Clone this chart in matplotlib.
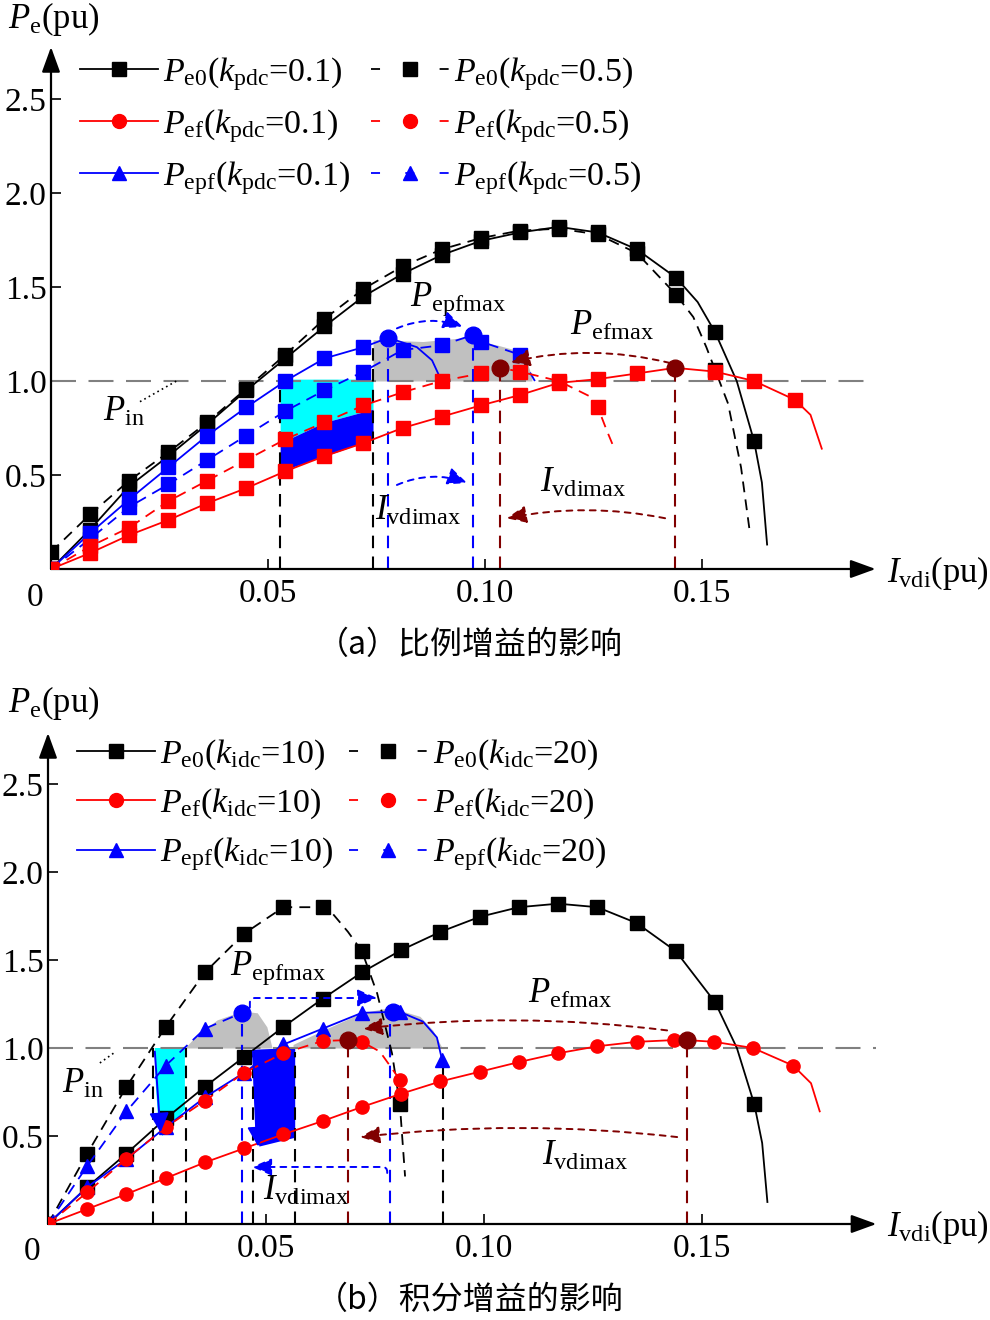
import matplotlib.pyplot as plt
from matplotlib.lines import Line2D

plt.rcParams['font.family'] = ['Liberation Serif', 'Noto Sans CJK SC', 'DejaVu Sans']
plt.rcParams['mathtext.fontset'] = 'custom'
plt.rcParams['mathtext.rm'] = 'Liberation Serif'
plt.rcParams['mathtext.it'] = 'Liberation Serif:italic'
plt.rcParams['mathtext.bf'] = 'Liberation Serif:bold'

BROWN = '#800000'
DASH = (0, (6, 4))

# ---------------- (a) proportional gain kpdc ----------------
pe0_p1_x = [0, .009, .018, .027, .036, .045, .054, .063, .072, .081, .090, .099, .108, .117, .126, .135, .144, .149, .153, .158, .162, .1638, .165]
pe0_p1_y = [0, .21, .44, .60, .77, .95, 1.12, 1.29, 1.45, 1.57, 1.67, 1.745, 1.79, 1.82, 1.79, 1.70, 1.55, 1.42, 1.26, 1.0, .68, .46, .13]
pe0_p1_mk = list(range(17)) + [18, 20]

pe0_p5_x = [0, .009, .018, .027, .036, .045, .054, .063, .072, .081, .090, .099, .108, .117, .126, .135, .144, .148, .151, .153, .156, .159, .161]
pe0_p5_y = [.09, .29, .47, .62, .78, .96, 1.14, 1.33, 1.49, 1.61, 1.70, 1.76, 1.80, 1.81, 1.78, 1.68, 1.46, 1.34, 1.18, 1.06, .88, .54, .2]
pe0_p5_mk = list(range(17)) + [19]

pef_p1_x = [0, .009, .018, .027, .036, .045, .054, .063, .072, .081, .090, .099, .108, .117, .126, .135, .1438, .153, .162, .1714, .175, .1776]
pef_p1_y = [0, .085, .18, .26, .35, .43, .52, .60, .67, .75, .81, .87, .925, .99, 1.01, 1.04, 1.07, 1.05, 1.0, .90, .82, .64]
pef_p1_mk = list(range(16)) + [17, 18, 19]

pef_p5_x = [0, .009, .018, .027, .036, .045, .054, .063, .072, .081, .090, .099, .1035, .108, .117, .124, .126, .128, .1298]
pef_p5_y = [0, .12, .22, .36, .47, .58, .69, .78, .87, .94, 1.0, 1.04, 1.07, 1.05, 1.0, .92, .86, .74, .64]
pef_p5_mk = list(range(12)) + [13, 14, 16]

pepf_p1_x = [0, .009, .018, .027, .036, .045, .054, .063, .072, .0777, .0843, .0878, .0892]
pepf_p1_y = [0, .19, .37, .54, .71, .86, 1.0, 1.12, 1.18, 1.23, 1.18, 1.11, 1.04]
pepf_p1_mk = list(range(9))

pepf_p5_x = [0, .009, .018, .027, .036, .045, .054, .063, .072, .081, .090, .0973, .099, .108, .1115]
pepf_p5_y = [0, .16, .33, .45, .58, .71, .84, .95, 1.05, 1.165, 1.19, 1.245, 1.21, 1.14, 1.0]
pepf_p5_mk = list(range(11)) + [12, 13]

pepfmax_a_x = [.0777, .0973]
pepfmax_a_y = [1.23, 1.245]
pefmax_a_x = [.1035, .1438]
pefmax_a_y = [1.07, 1.07]

cyan_a_x = [.0528, .063, .0742]
cyan_a_top = [1.01, 1.01, 1.01]
blue_a_lo = [.52, .60, .69]
blue_a_hi = [.67, .78, .85]
gray_a_x = [.0742, .0857, .095, .103, .107, .1097, .1108]
gray_a_top = [1.22, 1.21, 1.23, 1.19, 1.165, 1.10, 1.02]

vk_a_x, vk_a_top = [.0528, .0742], [1.0, 1.21]
vb_a_x, vb_a_top = [.0777, .0973], [1.23, 1.245]
vr_a_x, vr_a_top = [.1035, .1438], [1.07, 1.07]

# ---------------- (b) integral gain kidc ----------------
pe0_i10_x = [0, .009, .018, .027, .036, .045, .054, .063, .072, .081, .090, .099, .108, .117, .126, .135, .144, .153, .158, .162, .1638, .165]
pe0_i10_y = [0, .21, .40, .60, .78, .95, 1.12, 1.28, 1.43, 1.556, 1.66, 1.745, 1.80, 1.82, 1.80, 1.71, 1.55, 1.26, 1.0, .68, .46, .125]
pe0_i10_mk = list(range(18)) + [19]

pe0_i20_x = [0, .009, .018, .027, .036, .045, .054, .063, .0654, .0688, .072, .0755, .0789, .0807, .0819]
pe0_i20_y = [0, .40, .78, 1.12, 1.43, 1.65, 1.80, 1.80, 1.76, 1.66, 1.55, 1.31, .97, .68, .27]
pe0_i20_mk = list(range(8)) + [10, 13]

pef_i10_x = [0, .009, .018, .027, .036, .045, .054, .063, .072, .081, .090, .099, .108, .117, .126, .135, .1436, .1465, .1528, .1617, .1709, .175, .177]
pef_i10_y = [0, .085, .17, .26, .35, .43, .51, .585, .665, .74, .81, .865, .92, .97, 1.01, 1.035, 1.045, 1.045, 1.035, 1.0, .90, .80, .64]
pef_i10_mk = list(range(17)) + [18, 19, 20]

pef_i20_x = [0, .009, .018, .027, .036, .045, .054, .063, .0689, .072, .0761, .0807]
pef_i20_y = [0, .18, .37, .55, .70, .86, .97, 1.04, 1.045, 1.035, .98, .82]
pef_i20_mk = list(range(8)) + [9, 11]

pepf_i10_x = [0, .009, .018, .027, .036, .045, .054, .063, .072, .0792, .0807, .086, .0892, .0904]
pepf_i10_y = [0, .21, .37, .55, .72, .86, 1.02, 1.11, 1.20, 1.205, 1.205, 1.15, 1.06, .93]
pepf_i10_mk = list(range(9)) + [10, 13]

pepf_i20_x = [0, .009, .018, .027, .036, .0445]
pepf_i20_y = [0, .33, .64, .90, 1.11, 1.20]
pepf_i20_mk = list(range(5))

pepfmax_b_x = [.0445, .0792]
pepfmax_b_y = [1.20, 1.205]
pefmax_b_x = [.0689, .1465]
pefmax_b_y = [1.045, 1.045]

cyan_b_x = [.0245, .0314, .0314, .0262, .0252, .0247]
cyan_b_y = [1.0, 1.0, .65, .50, .62, .80]
blue_b_x = [.047, .0567, .0567, .0485, .0475, .0471]
blue_b_y = [.99, 1.0, .49, .44, .55, .80]
gray_b1_x = [.0314, .034, .0388, .0445, .048, .0502, .0514]
gray_b1_top = [1.0, 1.07, 1.16, 1.21, 1.2, 1.12, 1.0]
gray_b2_x = [.0562, .063, .072, .0785, .0853, .0883, .0904]
gray_b2_top = [1.02, 1.10, 1.20, 1.23, 1.18, 1.10, 1.0]

vk_b_x, vk_b_top = [.0241, .0316, .047, .0567, .0906], [1.0, 1.0, .98, .98, .92]
vb_b_x, vb_b_top = [.0445, .0784], [1.2, 1.2]
vr_b_x, vr_b_top = [.0689, .1466], [1.045, 1.045]

fig = plt.figure(figsize=(9.9, 13.2), dpi=100)
ax_a = fig.add_axes([51/990, 1 - 569/1320, 0.19*4340/990, (569 - 47)/1320])
ax_b = fig.add_axes([48/990, 1 - 1224/1320, 0.19*4360/990, (1224 - 733)/1320])
ax_a.set_ylim(0, (569 - 47)/188)
ax_b.set_ylim(0, (1224 - 733)/176)


def style_axes(ax):
    ax.set_xlim(0, 0.19)
    for s in ax.spines.values():
        s.set_visible(False)
    top = ax.get_ylim()[1]
    arrow = dict(arrowstyle='-|>,head_length=0.55,head_width=0.2', color='k', lw=1.6,
                 mutation_scale=28, shrinkA=0, shrinkB=0)
    ax.annotate('', xy=(0.19, 0), xytext=(0, 0), arrowprops=arrow, annotation_clip=False)
    ax.annotate('', xy=(0, top), xytext=(0, 0), arrowprops=arrow, annotation_clip=False)
    ax.set_xticks([0.05, 0.10, 0.15])
    ax.set_xticklabels(['0.05', '0.10', '0.15'])
    ax.set_yticks([0.5, 1.0, 1.5, 2.0, 2.5])
    ax.set_yticklabels(['0.5', '1.0', '1.5', '2.0', '2.5'])
    ax.tick_params(direction='in', length=7, width=1.2, labelsize=24)
    ax.tick_params(axis='x', pad=7)
    ax.tick_params(axis='y', pad=3)
    ax.text(-0.0037, -0.025, '0', fontsize=24, ha='center', va='top',
            transform=ax.get_xaxis_transform())
    ax.axhline(1.0, color='#808080', lw=1.5, ls=(0, (12, 6)), zorder=2)


def curve(ax, x, y, color, ls, marker, mk):
    ax.plot(x, y, color=color, lw=1.3, ls=ls, marker=marker, ms=9.5,
            markevery=mk, zorder=3)


def arrow(ax, start, end, color, cs):
    ax.annotate('', xy=end, xytext=start,
                arrowprops=dict(arrowstyle='-|>,head_length=0.8,head_width=0.35',
                                color=color, lw=1.4, ls=(0, (3, 3)),
                                connectionstyle=cs, mutation_scale=15,
                                shrinkA=0, shrinkB=0), zorder=5)


def legend(ax, labels, anchor, colsp):
    hs = [Line2D([], [], color='k', lw=1.3, marker='s', ms=10),
          Line2D([], [], color='r', lw=1.3, marker='o', ms=10),
          Line2D([], [], color='b', lw=1.3, marker='^', ms=10),
          Line2D([], [], color='k', lw=1.3, ls=(0, (5, 14)), marker='s', ms=10),
          Line2D([], [], color='r', lw=1.3, ls=(0, (5, 14)), marker='o', ms=10),
          Line2D([], [], color='b', lw=1.3, ls=(0, (5, 14)), marker='^', ms=10)]
    ax.legend(hs, labels, ncol=2, loc='upper left', bbox_to_anchor=anchor,
              frameon=False, fontsize=24.5, handlelength=2.3, handletextpad=0.15,
              labelspacing=0.42, columnspacing=colsp, borderpad=0, borderaxespad=0)


# ---- panel (a)
ax = ax_a
style_axes(ax)
ax.fill_between(cyan_a_x, blue_a_hi, cyan_a_top, color='#00ffff', lw=0, zorder=1)
ax.fill_between(cyan_a_x, blue_a_lo, blue_a_hi, color='#0000ff', lw=0, zorder=1)
ax.fill_between(gray_a_x, 1.0, gray_a_top, color='#c0c0c0', lw=0, zorder=1)
ax.vlines(vk_a_x, 0, vk_a_top, colors='k', lw=1.5, linestyles=(0, (6, 4)), zorder=2)
ax.vlines(vb_a_x, 0, vb_a_top, colors='b', lw=1.5, linestyles=(0, (6, 4)), zorder=2)
ax.vlines(vr_a_x, 0, vr_a_top, colors=BROWN, lw=1.5, linestyles=(0, (6, 4)), zorder=2)

curve(ax, pe0_p1_x, pe0_p1_y, 'k', '-', 's', pe0_p1_mk)
curve(ax, pe0_p5_x, pe0_p5_y, 'k', DASH, 's', pe0_p5_mk)
curve(ax, pepf_p1_x, pepf_p1_y, 'b', '-', 's', pepf_p1_mk)
curve(ax, pepf_p5_x, pepf_p5_y, 'b', DASH, 's', pepf_p5_mk)
curve(ax, pef_p1_x, pef_p1_y, 'r', '-', 's', pef_p1_mk)
curve(ax, pef_p5_x, pef_p5_y, 'r', DASH, 's', pef_p5_mk)
ax.plot(pepfmax_a_x, pepfmax_a_y, 'o', color='b', ms=12, zorder=4)
ax.plot(pefmax_a_x, pefmax_a_y, 'o', color=BROWN, ms=12, zorder=4)

arrow(ax, (.0797, 1.28), (.0949, 1.287), 'b', 'arc3,rad=-0.2')
arrow(ax, (.0797, .447), (.0959, .457), 'b', 'arc3,rad=-0.2')
arrow(ax, (.1426, 1.096), (.1058, 1.10), BROWN, 'arc3,rad=0.12')
arrow(ax, (.1415, .27), (.105, .27), BROWN, 'arc3,rad=0.1')
ax.plot([.0205, .0293], [.89, 1.005], color='k', lw=1.2, ls=(0, (1, 2)))

ax.text(.0827, 1.40, r'$P_{\rm epfmax}$', fontsize=25, va='baseline')
ax.text(.1196, 1.245, r'$P_{\rm efmax}$', fontsize=25, va='baseline')
ax.text(.1127, .41, r'$I_{\rm vdimax}$', fontsize=25, va='baseline')
ax.text(.0747, .26, r'$I_{\rm vdimax}$', fontsize=25, va='baseline')
ax.text(.012, .79, r'$P_{\rm in}$', fontsize=25, va='baseline')

legend(ax, [r'$P_{\rm e0}(k_{\rm pdc}$=0.1)', r'$P_{\rm ef}(k_{\rm pdc}$=0.1)',
            r'$P_{\rm epf}(k_{\rm pdc}$=0.1)', r'$P_{\rm e0}(k_{\rm pdc}$=0.5)',
            r'$P_{\rm ef}(k_{\rm pdc}$=0.5)', r'$P_{\rm epf}(k_{\rm pdc}$=0.5)'],
       (0.035, 0.985), 0.6)

# ---- panel (b)
ax = ax_b
style_axes(ax)
ax.fill(cyan_b_x, cyan_b_y, color='#00ffff', lw=0, zorder=1)
ax.fill(blue_b_x, blue_b_y, color='#0000ff', lw=0, zorder=1)
ax.fill_between(gray_b1_x, 1.0, gray_b1_top, color='#c0c0c0', lw=0, zorder=1)
ax.fill_between(gray_b2_x, 1.0, gray_b2_top, color='#c0c0c0', lw=0, zorder=1)
ax.vlines(vk_b_x, 0, vk_b_top, colors='k', lw=1.5, linestyles=(0, (6, 4)), zorder=2)
ax.vlines(vb_b_x, 0, vb_b_top, colors='b', lw=1.5, linestyles=(0, (6, 4)), zorder=2)
ax.vlines(vr_b_x, 0, vr_b_top, colors=BROWN, lw=1.5, linestyles=(0, (6, 4)), zorder=2)

curve(ax, pe0_i10_x, pe0_i10_y, 'k', '-', 's', pe0_i10_mk)
curve(ax, pe0_i20_x, pe0_i20_y, 'k', DASH, 's', pe0_i20_mk)
curve(ax, pepf_i10_x, pepf_i10_y, 'b', '-', '^', pepf_i10_mk)
curve(ax, pepf_i20_x, pepf_i20_y, 'b', DASH, '^', pepf_i20_mk)
curve(ax, pef_i10_x, pef_i10_y, 'r', '-', 'o', pef_i10_mk)
curve(ax, pef_i20_x, pef_i20_y, 'r', DASH, 'o', pef_i20_mk)
ax.plot(pepfmax_b_x, pepfmax_b_y, 'o', color='b', ms=12, zorder=4)
ax.plot(pefmax_b_x, pefmax_b_y, 'o', color=BROWN, ms=12, zorder=4)

ax.annotate('', xy=(.0258, .52), xytext=(.0245, .98),
            arrowprops=dict(arrowstyle='-|>,head_length=0.8,head_width=0.4', color='b',
                            lw=1.4, mutation_scale=15, shrinkA=0, shrinkB=0), zorder=4)
ax.annotate('', xy=(.0482, .44), xytext=(.047, .98),
            arrowprops=dict(arrowstyle='-|>,head_length=0.8,head_width=0.4', color='b',
                            lw=1.4, mutation_scale=15, shrinkA=0, shrinkB=0), zorder=4)
arrow(ax, (.0463, 1.23), (.0755, 1.284), 'b', 'angle,angleA=90,angleB=0,rad=5')
arrow(ax, (.0778, .29), (.0468, .324), 'b', 'angle,angleA=90,angleB=0,rad=5')
arrow(ax, (.142, 1.10), (.0722, 1.11), BROWN, 'arc3,rad=0.06')
arrow(ax, (.1443, .494), (.0716, .494), BROWN, 'arc3,rad=0.057')
ax.plot([.0119, .0154], [.915, .977], color='k', lw=1.2, ls=(0, (1, 2)))

ax.text(.0417, 1.415, r'$P_{\rm epfmax}$', fontsize=25, va='baseline')
ax.text(.110, 1.256, r'$P_{\rm efmax}$', fontsize=25, va='baseline')
ax.text(.1133, .335, r'$I_{\rm vdimax}$', fontsize=25, va='baseline')
ax.text(.0493, .136, r'$I_{\rm vdimax}$', fontsize=25, va='baseline')
ax.text(.0032, .744, r'$P_{\rm in}$', fontsize=25, va='baseline')

legend(ax, [r'$P_{\rm e0}(k_{\rm idc}$=10)', r'$P_{\rm ef}(k_{\rm idc}$=10)',
            r'$P_{\rm epf}(k_{\rm idc}$=10)', r'$P_{\rm e0}(k_{\rm idc}$=20)',
            r'$P_{\rm ef}(k_{\rm idc}$=20)', r'$P_{\rm epf}(k_{\rm idc}$=20)'],
       (0.035, 0.99), 0.45)

# axis names and captions
fig.text(8/990, 1 - 28/1320, r'$P_{\rm e}$(pu)', fontsize=25, va='baseline')
fig.text(8/990, 1 - 712/1320, r'$P_{\rm e}$(pu)', fontsize=25, va='baseline')
fig.text(887/990, 1 - 582/1320, r'$I_{\rm vdi}$(pu)', fontsize=25, va='baseline')
fig.text(887/990, 1 - 1236/1320, r'$I_{\rm vdi}$(pu)', fontsize=25, va='baseline')
fig.text(470/990, 1 - 645/1320, '（a）比例增益的影响', family='Noto Sans CJK SC',
         fontsize=23, ha='center', va='center')
fig.text(470/990, 1 - 1300/1320, '（b）积分增益的影响', family='Noto Sans CJK SC',
         fontsize=23, ha='center', va='center')

fig.savefig('out.png', dpi=100)
